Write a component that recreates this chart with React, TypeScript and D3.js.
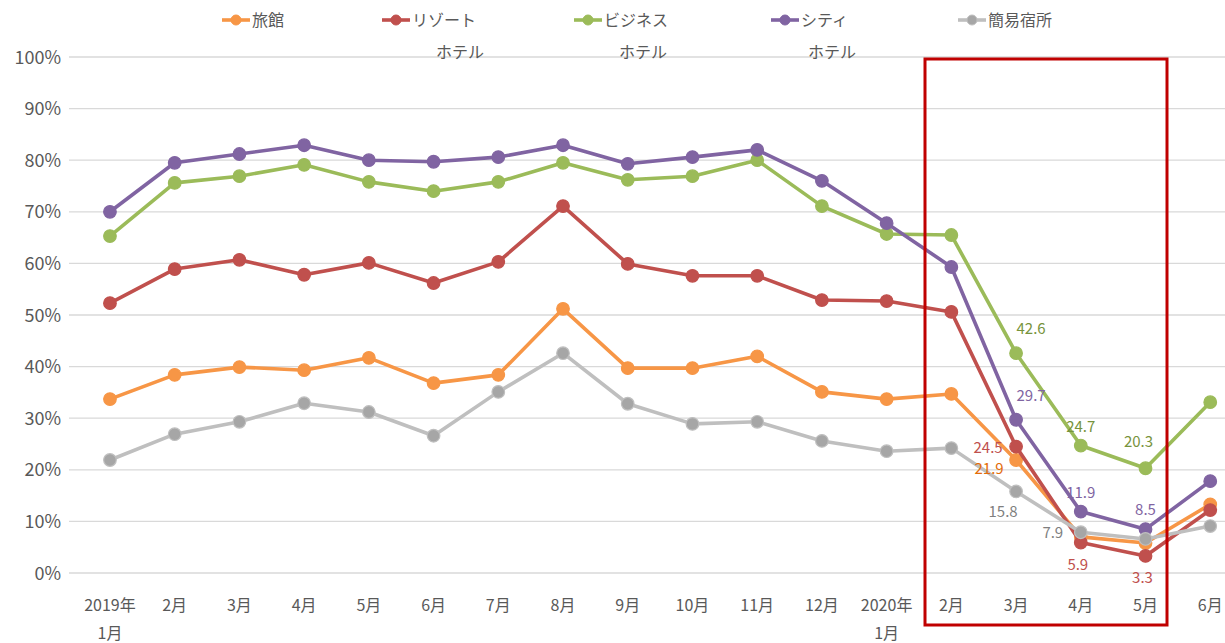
import React from "react";
import * as d3 from "d3";

const months = [
  "2019年\n1月", "2月", "3月", "4月", "5月", "6月", "7月", "8月", "9月", "10月",
  "11月", "12月", "2020年\n1月", "2月", "3月", "4月", "5月", "6月",
];

const ryokan = [33.7, 38.4, 39.9, 39.3, 41.7, 36.8, 38.4, 51.2, 39.7, 39.7, 42.0, 35.1, 33.7, 34.7, 21.9, 7.0, 5.8, 13.3];
const resort = [52.3, 58.9, 60.7, 57.8, 60.1, 56.2, 60.3, 71.1, 59.9, 57.6, 57.6, 52.9, 52.7, 50.6, 24.5, 5.9, 3.3, 12.2];
const business = [65.3, 75.6, 76.9, 79.1, 75.8, 74.0, 75.8, 79.5, 76.2, 76.9, 80.0, 71.1, 65.7, 65.5, 42.6, 24.7, 20.3, 33.1];
const city = [70.0, 79.5, 81.2, 82.9, 80.0, 79.7, 80.6, 82.9, 79.3, 80.6, 82.0, 76.0, 67.8, 59.3, 29.7, 11.9, 8.5, 17.8];
const kani = [21.9, 26.9, 29.3, 32.9, 31.2, 26.6, 35.1, 42.6, 32.8, 28.9, 29.3, 25.6, 23.6, 24.2, 15.8, 7.9, 6.6, 9.1];

const seriesNames = ["旅館", "リゾート\nホテル", "ビジネス\nホテル", "シティ\nホテル", "簡易宿所"];
const yTicks = [0, 10, 20, 30, 40, 50, 60, 70, 80, 90, 100];

// which points carry a value label, and where it sits
const labelled = [
  { s: 2, i: 14, pos: "aboveRight" },
  { s: 3, i: 14, pos: "aboveRight" },
  { s: 1, i: 14, pos: "left" },
  { s: 0, i: 14, pos: "leftBelow" },
  { s: 4, i: 14, pos: "belowLeft" },
  { s: 2, i: 15, pos: "above" },
  { s: 3, i: 15, pos: "above" },
  { s: 4, i: 15, pos: "left" },
  { s: 1, i: 15, pos: "below" },
  { s: 2, i: 16, pos: "aboveLeft" },
  { s: 3, i: 16, pos: "above" },
  { s: 1, i: 16, pos: "below" },
];

const series = [ryokan, resort, business, city, kani];
const colors = ["#F79646", "#C0504D", "#9BBB59", "#8064A2", "#BFBFBF"];
const markerFill = ["#F79646", "#C0504D", "#9BBB59", "#8064A2", "#A6A6A6"];
const labelColors = ["#E46C0A", "#C0504D", "#77933C", "#8064A2", "#7F7F7F"];
const offsets: Record<string, [number, number]> = {
  aboveRight: [15, -19],
  above: [0, -14],
  aboveLeft: [-7, -21],
  left: [-28, 6],
  leftBelow: [-27, 14],
  belowLeft: [-13, 26],
  below: [-3, 27],
};

const W = 1225;
const H = 643;
const FONT = "'Noto Sans CJK JP', 'Noto Sans', sans-serif";

export default function App() {
  const x = d3.scalePoint<number>().domain(d3.range(months.length)).range([77.6, 1242.6]).padding(0.5);
  const y = d3.scaleLinear().domain([0, 100]).range([573, 57]);
  const line = d3.line<number>().x((_, i) => x(i)!).y(d => y(d));

  const legendX = [236, 396, 588, 785, 972];
  const wrapShift = [0, 24, 15, 7];

  return (
    <svg width={W} height={H} style={{ position: "absolute", left: 0, top: 0, background: "#fff", fontFamily: FONT }}>
      {yTicks.map(t => (
        <g key={t}>
          <line x1={69} x2={W} y1={y(t)} y2={y(t)} stroke="#D9D9D9" strokeWidth={1.3} />
          <text x={61} y={y(t) + 6.5} textAnchor="end" fontSize={18} fill="#595959">{t}%</text>
        </g>
      ))}
      {months.map((m, i) => (
        <text key={i} x={x(i)} y={611} textAnchor="middle" fontSize={16} fill="#595959">
          {m.split("\n").map((p, k) => (
            <tspan key={k} x={x(i)} dy={k === 0 ? 0 : 28}>{p}</tspan>
          ))}
        </text>
      ))}

      {series.map((d, s) => (
        <g key={s}>
          <path d={line(d) ?? ""} fill="none" stroke={colors[s]} strokeWidth={3.6} strokeLinejoin="round" />
          {d.map((v, i) => (
            <circle key={i} cx={x(i)} cy={y(v)} r={6.3} fill={markerFill[s]} stroke={colors[s]} strokeWidth={1.2} />
          ))}
        </g>
      ))}

      {labelled.map((l, k) => {
        const [dx, dy] = offsets[l.pos];
        const v = series[l.s][l.i];
        return (
          <text key={k} x={x(l.i)! + dx} y={y(v) + dy} textAnchor="middle" fontSize={15} fill={labelColors[l.s]}>
            {v.toFixed(1)}
          </text>
        );
      })}

      {seriesNames.map((n, s) => {
        const cx = legendX[s];
        const parts = n.split("\n");
        return (
          <g key={s}>
            <line x1={cx - 14} x2={cx + 14} y1={20} y2={20} stroke={colors[s]} strokeWidth={3.6} />
            <circle cx={cx} cy={20} r={5} fill={markerFill[s]} stroke={colors[s]} strokeWidth={1} />
            <text x={cx + 16} y={26} fontSize={16} fill="#595959">{parts[0]}</text>
            {parts[1] && (
              <text x={cx + 16 + wrapShift[s]} y={58} fontSize={16} fill="#595959">{parts[1]}</text>
            )}
          </g>
        );
      })}

      <rect x={925} y={59} width={242} height={566} fill="none" stroke="#C00000" strokeWidth={3} />
    </svg>
  );
}
